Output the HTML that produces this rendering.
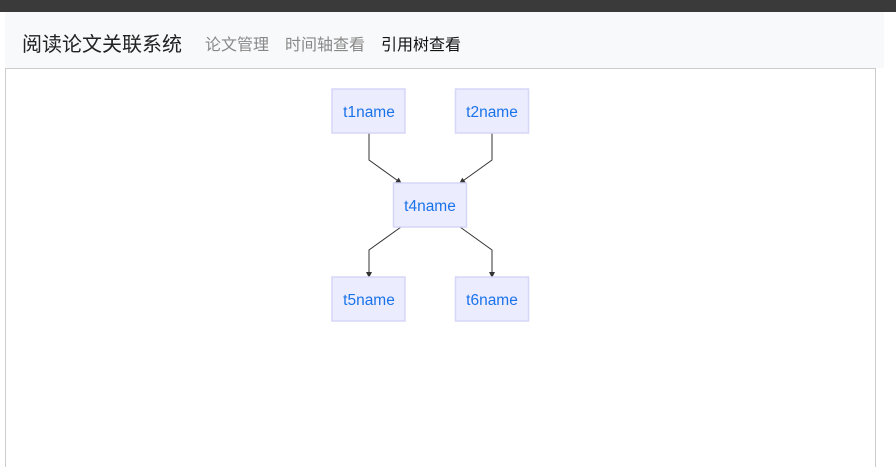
<!DOCTYPE html>
<html><head><meta charset="utf-8"><style>
html,body{margin:0;width:896px;height:467px;overflow:hidden;background:#fff;font-family:"Liberation Sans","Noto Sans CJK SC",sans-serif;position:relative}
.top{position:absolute;left:0;top:0;width:896px;height:12px;background:#3a3a3a}
.nav{position:absolute;left:5px;top:12px;width:879px;height:56px;background:#f8f9fa}
.brand{position:absolute;left:22px;top:28px;font-size:20px;color:#222}
.l{position:absolute;top:31px;font-size:16px;color:#888}
.box{position:absolute;left:5px;top:68px;width:869px;height:398px;border:1px solid #ccc;border-bottom:none}
</style></head><body>
<div class="top"></div>
<div class="nav"></div>
<div class="brand">阅读论文关联系统</div>
<div class="l" style="left:205px">论文管理</div>
<div class="l" style="left:285px">时间轴查看</div>
<div class="l" style="left:381px;color:#111">引用树查看</div>
<div class="box"></div>
<svg style="position:absolute;left:0;top:0" width="896" height="467">
<defs><marker id="a" markerWidth="6" markerHeight="6" refX="5" refY="3" orient="auto"><path d="M0,0L6,3L0,6z" fill="#333"/></marker></defs>
<g fill="none" stroke="#333" stroke-width="1">
<path d="M369,133V160L401,183" marker-end="url(#a)"/>
<path d="M492,133V160L460,183" marker-end="url(#a)"/>
<path d="M401,227L369,250V277" marker-end="url(#a)"/>
<path d="M460,227L492,250V277" marker-end="url(#a)"/>
</g>
<g fill="#ececff" stroke="#d6d6f8" stroke-width="1.5">
<rect x="332" y="89" width="73" height="44"/><rect x="455.5" y="89" width="73" height="44"/>
<rect x="393.5" y="183" width="73" height="44"/>
<rect x="332" y="277" width="73" height="44"/><rect x="455.5" y="277" width="73" height="44"/>
</g>
<g fill="#1a73e8" font-size="15.5" text-anchor="middle" font-family="Liberation Sans,sans-serif">
<text x="369" y="117">t1name</text><text x="492" y="117">t2name</text>
<text x="430" y="211">t4name</text>
<text x="369" y="305">t5name</text><text x="492" y="305">t6name</text>
</g>
</svg>
</body></html>
